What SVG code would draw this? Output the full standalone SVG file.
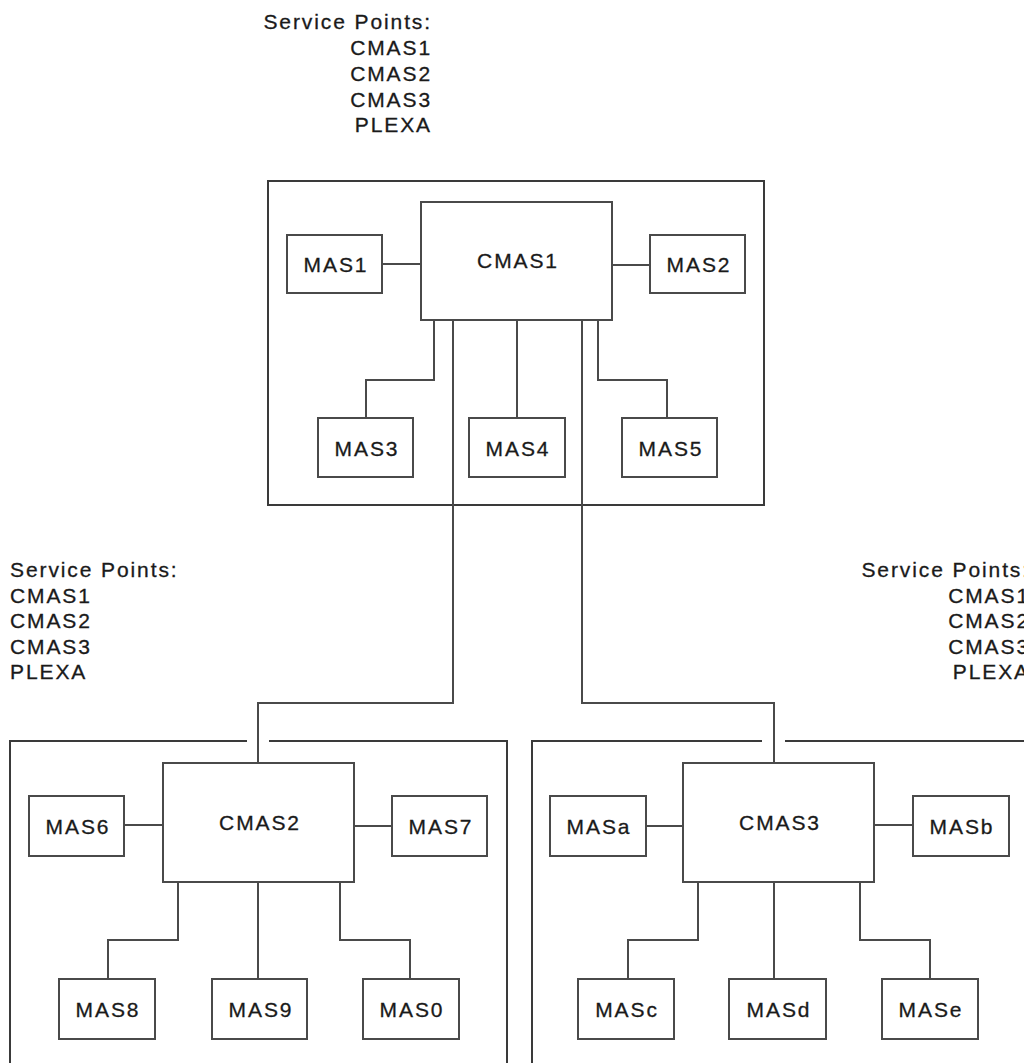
<svg xmlns="http://www.w3.org/2000/svg" width="1024" height="1063" viewBox="0 0 1024 1063">
<style>
  .box { fill: #ffffff; stroke: #4a4a4a; stroke-width: 2; }
  .frame { fill: none; stroke: #3a3a3a; stroke-width: 2; }
  .conn { fill: none; stroke: #4a4a4a; stroke-width: 2; }
  text { font-family: "Liberation Sans", Arial, sans-serif; font-size: 21px; letter-spacing: 1.9px; fill: #1a1a1a; stroke: #1a1a1a; stroke-width: 0.3px; }
  .c { text-anchor: middle; }
  .r { text-anchor: end; }
</style>
<rect width="1024" height="1063" fill="#ffffff"/>

<g id="labels">
  <g id="label-top">
    <text class="r" x="432" y="29">Service Points:</text>
    <text class="r" x="432" y="55">CMAS1</text>
    <text class="r" x="432" y="81">CMAS2</text>
    <text class="r" x="432" y="107">CMAS3</text>
    <text class="r" x="432" y="132">PLEXA</text>
  </g>
  <g id="label-left">
    <text x="10" y="577">Service Points:</text>
    <text x="10" y="602.5">CMAS1</text>
    <text x="10" y="628">CMAS2</text>
    <text x="10" y="653.5">CMAS3</text>
    <text x="10" y="679">PLEXA</text>
  </g>
  <g id="label-right">
    <text class="r" x="1030" y="577">Service Points:</text>
    <text class="r" x="1030" y="602.5">CMAS1</text>
    <text class="r" x="1030" y="628">CMAS2</text>
    <text class="r" x="1030" y="653.5">CMAS3</text>
    <text class="r" x="1030" y="679">PLEXA</text>
  </g>
</g>

<g id="frames">
  <rect id="frame-top" class="frame" x="268" y="181" width="496" height="324"/>
  <path id="frame-left" class="frame" d="M247,741 H10 V1075 M269,741 H507 V1075"/>
  <path id="frame-right" class="frame" d="M762,741 H532 V1075 M785,741 H1030"/>
</g>

<g id="connectors">
  <path class="conn" d="M382,264 H421"/>
  <path class="conn" d="M612,265 H650"/>
  <path class="conn" d="M434,320 V380 H366 V418"/>
  <path class="conn" d="M517,320 V418"/>
  <path class="conn" d="M598,320 V380 H667 V418"/>
  <path class="conn" d="M453,320 V703 H258 V763"/>
  <path class="conn" d="M582,320 V703 H774 V763"/>
  <path class="conn" d="M124,825 H163"/>
  <path class="conn" d="M354,826 H392"/>
  <path class="conn" d="M178,882 V940 H108 V979"/>
  <path class="conn" d="M258,882 V979"/>
  <path class="conn" d="M340,882 V940 H410 V979"/>
  <path class="conn" d="M646,826 H683"/>
  <path class="conn" d="M874,825 H913"/>
  <path class="conn" d="M698,882 V940 H628 V979"/>
  <path class="conn" d="M774,882 V979"/>
  <path class="conn" d="M860,882 V940 H930 V979"/>
</g>

<g id="CMAS1"><rect class="box" x="421" y="202" width="191" height="118"/><text class="c" x="518" y="268">CMAS1</text></g>
<g id="MAS1"><rect class="box" x="287" y="235" width="95" height="58"/><text class="c" x="336" y="272">MAS1</text></g>
<g id="MAS2"><rect class="box" x="650" y="235" width="95" height="58"/><text class="c" x="699" y="272">MAS2</text></g>
<g id="MAS3"><rect class="box" x="318" y="418" width="95" height="59"/><text class="c" x="367" y="456">MAS3</text></g>
<g id="MAS4"><rect class="box" x="469" y="418" width="96" height="59"/><text class="c" x="518" y="456">MAS4</text></g>
<g id="MAS5"><rect class="box" x="622" y="418" width="95" height="59"/><text class="c" x="671" y="456">MAS5</text></g>

<g id="CMAS2"><rect class="box" x="163" y="763" width="191" height="119"/><text class="c" x="260" y="830">CMAS2</text></g>
<g id="MAS6"><rect class="box" x="29" y="796" width="95" height="60"/><text class="c" x="78" y="834">MAS6</text></g>
<g id="MAS7"><rect class="box" x="392" y="796" width="95" height="60"/><text class="c" x="441" y="834">MAS7</text></g>
<g id="MAS8"><rect class="box" x="59" y="979" width="96" height="60"/><text class="c" x="108" y="1017">MAS8</text></g>
<g id="MAS9"><rect class="box" x="212" y="979" width="95" height="60"/><text class="c" x="261" y="1017">MAS9</text></g>
<g id="MAS0"><rect class="box" x="363" y="979" width="96" height="60"/><text class="c" x="412" y="1017">MAS0</text></g>

<g id="CMAS3"><rect class="box" x="683" y="763" width="191" height="119"/><text class="c" x="780" y="830">CMAS3</text></g>
<g id="MASa"><rect class="box" x="550" y="796" width="96" height="60"/><text class="c" x="599" y="834">MASa</text></g>
<g id="MASb"><rect class="box" x="913" y="796" width="96" height="60"/><text class="c" x="962" y="834">MASb</text></g>
<g id="MASc"><rect class="box" x="578" y="979" width="96" height="60"/><text class="c" x="627" y="1017">MASc</text></g>
<g id="MASd"><rect class="box" x="729" y="979" width="97" height="60"/><text class="c" x="779" y="1017">MASd</text></g>
<g id="MASe"><rect class="box" x="882" y="979" width="96" height="60"/><text class="c" x="931" y="1017">MASe</text></g>
</svg>
